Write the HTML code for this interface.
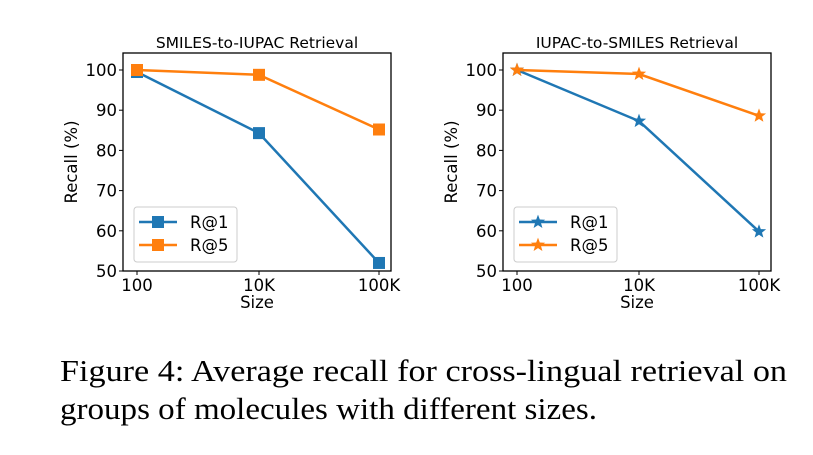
<!DOCTYPE html>
<html><head><meta charset="utf-8"><style>
html,body{margin:0;padding:0;background:#fff;}
svg{display:block;}
</style></head><body>
<svg id="fig" width="813" height="455" viewBox="0 0 813 455" xmlns="http://www.w3.org/2000/svg" font-family="'DejaVu Sans','Liberation Sans',sans-serif">
<text x="60" y="381" style="font-family:'Liberation Serif','Times New Roman',serif" font-size="31" textLength="727" lengthAdjust="spacingAndGlyphs">Figure 4:  Average recall for cross-lingual retrieval on</text>
<text x="60" y="419" style="font-family:'Liberation Serif','Times New Roman',serif" font-size="31" textLength="537" lengthAdjust="spacingAndGlyphs">groups of molecules with different sizes.</text>
</svg>
<script>
const categories = ["100", "10K", "100K"];
const yTicks = [50, 60, 70, 80, 90, 100];
const leftR1 = [99.5, 84.3, 52];
const leftR5 = [100, 98.8, 85.2];
const rightR1 = [100, 87.3, 59.8];
const rightR5 = [100, 99, 88.6];

const NS = "http://www.w3.org/2000/svg";
const svg = document.getElementById('fig');
const BLUE = "#1f77b4", ORANGE = "#ff7f0e";
function mk(tag, attrs, parent) {
  const e = document.createElementNS(NS, tag);
  for (const k in attrs) e.setAttribute(k, attrs[k]);
  (parent || svg).appendChild(e);
  return e;
}
function starPts(cx, cy, R) {
  const r = R * 0.42; let p = [];
  for (let i = 0; i < 10; i++) {
    const a = -Math.PI / 2 + i * Math.PI / 5, rr = i % 2 ? r : R;
    p.push((cx + rr * Math.cos(a)).toFixed(1) + "," + (cy + rr * Math.sin(a)).toFixed(1));
  }
  return p.join(" ");
}
function marker(g, shape, x, y, color, size) {
  let m;
  if (shape === 'square') m = mk('rect', {x: x - size/2, y: y - size/2, width: size, height: size, fill: color}, g);
  else m = mk('polygon', {points: starPts(x, y, size*0.62), fill: color}, g);
  
  
  return m;
}
function chart(prefix, left, title, r1, r5, shape) {
  const L = left, R = left + 268, T = 53, B = 271;
  const xPos = [L + 14, L + 136, L + 256];
  const xs = i => xPos[i];
  const ys = v => B - (v - 50) * (B - 70) / 50;
  const g = mk('g', {});
  
  
  const t = mk('text', {x: (L + R) / 2, y: 48, 'text-anchor': 'middle', 'font-size': 15.5}, g);
  t.textContent = title;
  
  
  yTicks.forEach(v => {
    const y = ys(v);
    mk('line', {x1: L - 4, x2: L, y1: y, y2: y, stroke: '#000', 'stroke-width': 1}, g);
    const tl = mk('text', {x: L - 6, y: y + 6, 'text-anchor': 'end', 'font-size': 16.5}, g);
    tl.textContent = v;
    
    
  });
  categories.forEach((c, i) => {
    const x = xs(i);
    mk('line', {x1: x, x2: x, y1: B, y2: B + 4, stroke: '#000', 'stroke-width': 1}, g);
    const tl = mk('text', {x: x, y: B + 20, 'text-anchor': 'middle', 'font-size': 16.5}, g);
    tl.textContent = c;
    
    
  });
  const xt = mk('text', {x: (L + R) / 2, y: B + 37, 'text-anchor': 'middle', 'font-size': 16.5}, g);
  xt.textContent = 'Size';
  
  
  const yt = mk('text', {x: 0, y: 0, 'text-anchor': 'middle', 'font-size': 16.5, transform: `translate(${L - 46},${(T + B) / 2}) rotate(-90)`}, g);
  yt.textContent = 'Recall (%)';
  
  
  [[r1, BLUE, 'r1'], [r5, ORANGE, 'r5']].forEach(([vals, col, nm]) => {
    const pl = mk('polyline', {points: vals.map((v, i) => xs(i) + ',' + ys(v)).join(' '), fill: 'none', stroke: col, 'stroke-width': 2.5}, g);
    
    
    vals.forEach((v, i) => marker(g, shape, xs(i), ys(v), col, 12));
  });
  const frame = mk('rect', {x: L, y: T, width: R - L, height: B - T, fill: 'none', stroke: '#000', 'stroke-width': 1.3}, g);
  
  
  const lg = mk('g', {}, g);
  
  
  mk('rect', {x: L + 11, y: 207, width: 103, height: 55, rx: 3, fill: '#fff', 'fill-opacity': 0.8, stroke: '#ccc'}, lg);
  [['R@1', BLUE, 222], ['R@5', ORANGE, 245]].forEach(([lab, col, y]) => {
    const e = mk('g', {}, lg);
    
    
    mk('line', {x1: L + 16, x2: L + 54, y1: y, y2: y, stroke: col, 'stroke-width': 2.5}, e);
    marker(e, shape, L + 35, y, col, 12);
    const tx = mk('text', {x: L + 67, y: y + 6, 'font-size': 16.5}, e);
    tx.textContent = lab;
  });
}
chart('left', 123, 'SMILES-to-IUPAC Retrieval', leftR1, leftR5, 'square');
chart('right', 503, 'IUPAC-to-SMILES Retrieval', rightR1, rightR5, 'star');
</script>
</body></html>
